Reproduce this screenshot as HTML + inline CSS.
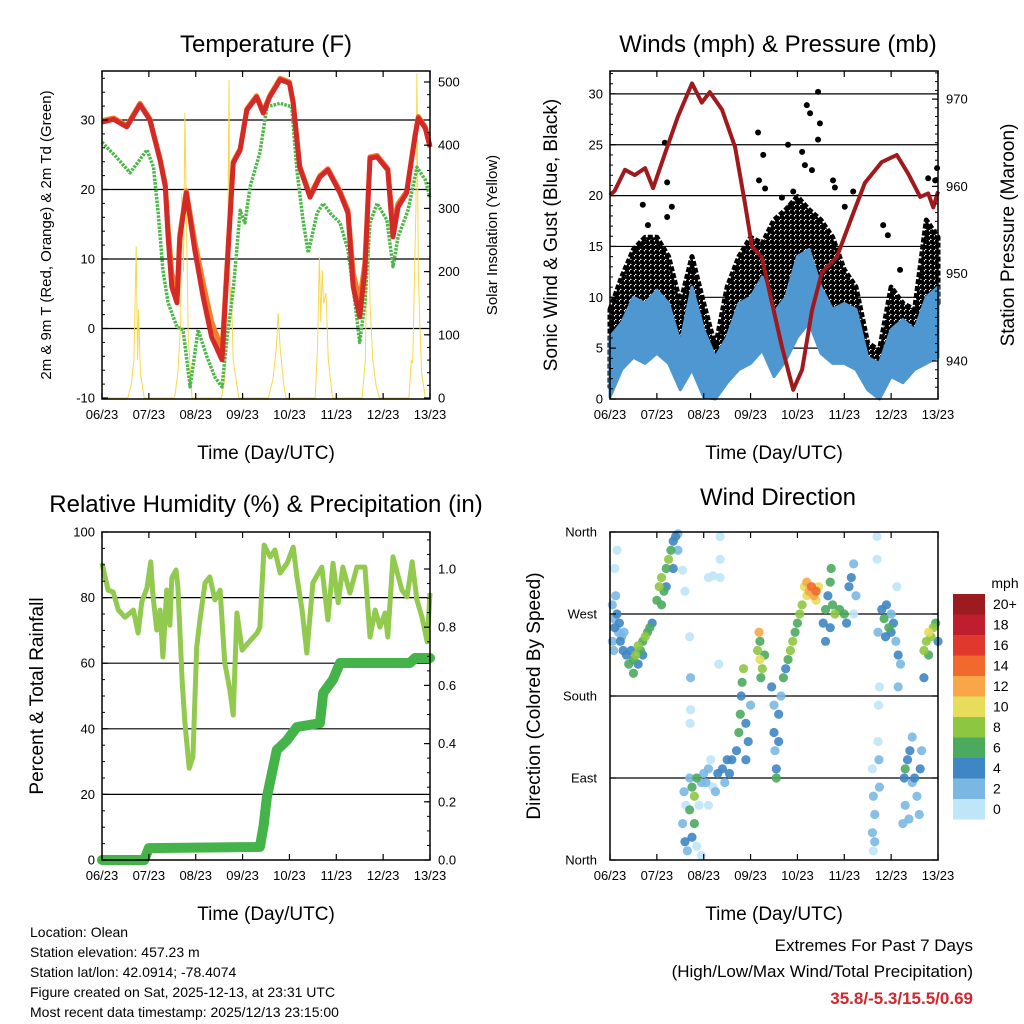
<!DOCTYPE html>
<html><head><meta charset="utf-8"><style>
body{margin:0;background:#fff}
svg{display:block;font-family:"Liberation Sans",Arial,sans-serif}
</style></head><body>
<svg id="c" width="1024" height="1024" viewBox="0 0 1024 1024" xmlns="http://www.w3.org/2000/svg">
<defs>
<pattern id="gustdots" width="5" height="5" patternUnits="userSpaceOnUse">
<circle cx="1.5" cy="1.5" r="2.6" fill="#000"/><circle cx="4" cy="4" r="2.6" fill="#000"/>
</pattern>
</defs>
</svg>
<script>
// ---------- DATA ----------
const dayLabels=["06/23","07/23","08/23","09/23","10/23","11/23","12/23","13/23"];
// Temperature (F)
const tempT=[0,0.25,0.53,0.81,1.02,1.24,1.35,1.41,1.49,1.6,1.66,1.8,1.98,2.16,2.34,2.56,2.69,2.8,2.95,3.09,3.3,3.44,3.58,3.8,4.0,4.08,4.22,4.44,4.65,4.82,5.08,5.25,5.36,5.5,5.61,5.72,5.87,6.1,6.21,6.32,6.5,6.68,6.75,6.9,7];
const temp2m=[29.7,30.1,29,32.2,30,24.2,20.4,13.2,6,3.7,13,19.5,11.3,4.5,-1.2,-4.5,10.9,23.8,25.7,31.4,33.3,31,33.3,35.8,35.3,32.4,23.2,18.9,21.8,22.8,19.5,16.6,6,1.7,8.4,24.5,24.7,22.8,13.2,17.5,19.5,27.6,30.3,28.8,26.1];
const temp9m=[29.9,30.3,29.2,32.4,30.2,24.4,20.8,14.5,8,5,13.5,19.8,12.5,6.5,1,-3,11.5,24,25.9,31.6,33.5,31.2,33.5,36,35.5,32.6,23.4,19.2,22,23,19.8,17,8,4,9.5,24.7,24.9,23,15,18,19.7,27.8,30.5,29,26.3];
const dewT=[0,0.3,0.6,0.96,1.1,1.2,1.3,1.41,1.6,1.73,1.88,2.05,2.24,2.41,2.56,2.67,2.8,2.95,3.05,3.16,3.37,3.52,3.8,4.05,4.16,4.29,4.4,4.59,4.72,4.87,5.08,5.25,5.4,5.5,5.61,5.72,5.87,6.08,6.21,6.32,6.53,6.72,6.9,7];
const dewV=[26.8,24.7,22.4,25.7,23.2,16.6,8.4,3.7,0.2,-0.2,-8.4,-0.2,-4.1,-7,-8.4,-1.2,5.5,17,15.2,20.4,25.3,31.9,32.4,31.9,22.8,15.6,10.9,16.6,18,16.6,15.2,11.3,3.7,-2,3.7,15.2,18,15.6,8.9,13.2,17,23.2,21.4,18.9];
const solarT=[0,0.55,0.62,0.68,0.73,0.76,0.78,0.82,0.9,1.55,1.62,1.68,1.7,1.74,1.77,1.8,1.84,1.92,2.55,2.62,2.68,2.71,2.73,2.76,2.8,2.92,3.55,3.65,3.72,3.76,3.8,3.88,3.93,4.55,4.6,4.64,4.67,4.7,4.73,4.78,4.83,4.92,5.55,5.62,5.68,5.72,5.78,5.85,5.92,6.55,6.6,6.63,6.7,6.72,6.75,6.78,6.82,6.9,7];
const solarV=[0,0,20,60,240,60,140,40,0,0,40,120,324,200,451,300,100,0,0,30,200,503,150,176,60,0,0,30,80,134,80,20,0,0,80,223,120,202,150,166,60,0,0,60,345,150,60,20,0,0,60,55,300,514,200,123,40,0,0];
// Winds
const pressT=[0,0.1,0.32,0.53,0.75,0.92,1.22,1.45,1.75,1.96,2.13,2.39,2.67,2.88,3.03,3.24,3.46,3.67,3.91,4.1,4.31,4.52,4.84,5.16,5.44,5.8,6.12,6.36,6.62,6.79,6.9,7];
const pressV=[959,959.5,961.9,961.3,962.1,959.8,964.5,968,971.8,969.6,970.8,968.8,964.5,958.1,953.1,951.9,946.6,941.6,936.7,939,945.8,950.1,951.9,956.5,960.4,962.8,963.6,961.5,958.8,959.2,957.6,959.4];
const windT=[0,0.25,0.5,0.75,1,1.25,1.5,1.75,2,2.25,2.5,2.75,3,3.25,3.5,3.75,4,4.25,4.5,4.75,5,5.25,5.5,5.75,6,6.25,6.5,6.75,7];
const windHi=[6.1,7.5,10,9.4,10.7,9.4,5.5,11,6.8,4.1,6.1,9.4,10,12,8.5,10,14,14.7,11,8.8,9.4,8.8,4.1,3.5,6.8,7.8,6.8,10,11];
const windLo=[0.2,2.9,4.1,3.5,4.5,3.5,0.9,2.9,0.2,0,1.6,2.9,3.5,4.8,2.2,3.8,6.1,7.5,4.5,3.5,3.5,2.9,0.9,0,2.2,1.6,2.9,3.5,4.1];
const gustHi=[8.8,12,14.7,15.9,15.9,14,9.4,14,9.4,5.1,11,14,15.9,15.3,17.6,18.6,19.9,18.6,17.6,15.9,12.7,11,5.5,4.8,11,9.4,8.8,17.6,15.9];
const gustLo=[1.2,4.5,6.1,6.1,7.8,6.1,2.9,6.8,3.5,1.6,4.5,6.8,7.8,8.8,7.5,9.4,11,10.7,9.4,8.8,6.1,5.5,2.9,1.9,5.5,4.5,4.1,9.4,9.4];
const gustPtT=[0.7,0.81,1.22,1.22,1.32,1.17,3.16,3.27,3.18,3.31,3.8,3.91,4.1,4.2,4.27,4.44,4.48,4.44,4.16,4.31,4.76,4.8,5.19,5.01,5.83,5.93,6.19,6.79,6.98,6.94,6.55,3.67,3.84];
const gustPtV=[19.1,17.1,17.9,21.3,18.9,25.2,26.2,24,21.5,20.7,25,20.4,24.3,28.9,28.1,30.2,27.1,25.5,23,22.5,21.5,20.8,20.4,18.9,17.1,16.1,12.7,21.7,22.7,21.5,8.9,19.8,18.9];
// RH & precip
const rhT=[0,0.13,0.24,0.35,0.49,0.67,0.77,0.85,0.96,1.04,1.09,1.17,1.24,1.3,1.38,1.45,1.49,1.58,1.62,1.71,1.77,1.86,1.94,2.02,2.09,2.2,2.3,2.41,2.52,2.62,2.73,2.8,2.88,2.99,3.12,3.31,3.37,3.46,3.59,3.69,3.8,3.95,4.08,4.16,4.27,4.37,4.5,4.69,4.82,4.93,5.04,5.14,5.29,5.44,5.61,5.72,5.83,5.93,6.04,6.1,6.21,6.4,6.51,6.62,6.72,6.83,6.94,7];
const rhV=[90.5,82.3,81.7,76.2,74,76.2,69.2,78.7,83,90.9,80.2,70.1,76.2,61.9,82.3,71.6,86,88.4,83.2,54.9,41.8,28,31.4,64.9,73.2,84.5,86.3,79.3,82.3,60,51.8,44.2,75.3,64,66.2,69.2,71,96,92.4,94.5,87.5,90.5,95.4,86.3,76.2,63.1,84.5,89.3,73.2,90.5,78.4,89.3,81.4,89.3,89.3,68,76.2,71,75.3,68,92.4,82.3,80.2,90.9,79.3,74,66.5,81.4];
const rainT=[0,0.9,1.0,3.37,3.45,3.52,3.73,3.94,4.16,4.65,4.72,4.93,5.08,6.57,6.68,7];
const rainV=[0,0,0.041,0.045,0.12,0.217,0.378,0.41,0.457,0.47,0.574,0.62,0.677,0.677,0.694,0.694];
// Wind direction points: time, degrees, speed
const dirT=[0.05,0.08,0.1,0.12,0.15,0.18,0.2,0.22,0.25,0.28,0.3,0.05,0.1,0.15,0.08,0.35,0.4,0.45,0.5,0.55,0.6,0.65,0.7,0.75,0.8,0.85,0.9,0.5,0.6,0.7,1.0,1.05,1.1,1.15,1.2,1.25,1.3,1.35,1.4,1.45,1.1,1.2,1.35,1.45,1.55,1.6,1.7,1.72,1.72,1.71,2.1,2.2,2.35,2.35,2.32,2.35,1.55,1.6,1.58,1.62,1.7,1.75,1.8,1.85,1.8,1.75,1.65,1.9,1.95,1.7,1.85,1.95,2.0,2.05,2.1,2.2,2.25,2.3,2.4,2.45,2.5,2.55,2.6,2.15,2.1,2.7,2.75,2.78,2.8,2.82,2.85,2.9,2.95,2.9,3.0,3.15,3.2,3.25,3.2,3.3,3.22,3.18,3.45,3.5,3.5,3.52,3.55,3.6,3.65,3.6,3.55,3.7,3.75,3.8,3.85,3.9,3.95,4.0,4.05,4.1,4.15,4.2,4.25,4.3,4.35,4.4,4.45,4.2,4.4,4.55,4.6,4.65,4.7,4.72,4.75,4.8,4.9,5.0,5.05,5.1,5.15,5.2,5.25,5.2,4.6,4.7,5.6,5.62,5.65,5.6,5.62,5.7,5.7,5.72,5.75,5.73,5.72,5.74,5.75,5.65,5.8,5.85,5.9,5.95,6.0,6.05,6.1,6.15,6.2,5.88,6.0,6.12,6.15,6.25,6.3,6.28,6.3,6.35,6.4,6.45,6.5,6.55,6.6,6.62,6.45,6.38,6.65,6.7,6.75,6.8,6.85,6.9,6.95,7.0,6.8,6.7];
const dirDeg=[280,265,255,290,270,250,260,240,245,230,250,240,320,340,230,225,215,230,220,225,235,230,240,245,250,255,260,205,215,225,285,300,310,295,320,330,340,350,355,358,280,300,320,340,318,295,245,200,165,150,310,312,355,330,215,310,40,20,75,60,55,80,70,90,40,25,10,60,85,90,15,5,95,85,100,80,75,95,100,85,110,95,110,110,60,120,140,160,180,195,210,150,130,110,170,230,220,210,240,225,200,250,190,170,140,120,100,160,180,130,90,200,210,220,230,240,250,260,270,280,300,305,295,300,290,295,300,290,285,260,275,290,305,320,280,270,275,270,260,300,310,325,290,270,240,255,100,70,50,30,10,355,330,250,190,170,130,110,80,20,275,265,280,255,250,260,240,225,215,245,270,300,190,40,60,90,100,110,120,135,90,70,50,100,85,45,120,230,240,250,245,255,260,240,225,200];
const dirSpd=[3,2,4,2,4,3,5,4,3,4,2,2,1,1,3,5,6,5,7,8,9,6,7,8,6,7,5,6,4,5,7,8,9,7,6,8,7,5,4,3,6,5,4,2,1,1,1,2,1,1,1,1,1,1,1,1,3,4,2,1,6,7,8,6,6,5,3,1,2,2,1,1,2,3,2,1,3,4,4,3,5,4,4,1,1,5,6,6,5,7,8,5,4,4,3,9,10,8,7,6,6,13,4,3,4,3,4,4,3,4,6,6,5,7,8,9,7,6,8,9,11,13,12,15,12,14,11,10,10,4,6,5,7,6,7,8,6,7,5,5,4,3,2,1,4,5,1,2,2,3,1,1,1,2,1,1,1,2,2,2,4,6,5,7,4,5,3,4,3,5,3,1,3,2,3,5,7,4,4,3,4,2,2,4,3,2,3,8,9,10,8,9,7,5,7,4];
const cbLabels=["20+","18","16","14","12","10","8","6","4","2","0"];
const cbColors=["#9b1b1e","#be1e2d","#e0382c","#f1692d","#f8a648","#e6dd5a","#8dc641","#4caa5f","#3e86c4","#7ab8e3","#bfe5f8"];

// ---------- DRAW ----------
const svg=document.getElementById('c');
const NS="http://www.w3.org/2000/svg";
function mk(tag,attrs,parent){const e=document.createElementNS(NS,tag);for(const k in attrs)e.setAttribute(k,attrs[k]);(parent||svg).appendChild(e);return e;}
function txt(s,x,y,size,anchor,parent,extra){const e=mk('text',Object.assign({x:x,y:y,'font-size':size,'text-anchor':anchor||'middle',fill:'#000'},extra||{}),parent);e.textContent=s;return e;}
function pathD(xs,ys){return xs.map((x,i)=>(i?'L':'M')+x.toFixed(1)+','+ys[i].toFixed(1)).join('');}

function panel(name,x0,y0,w,h){
  const g=mk('g',{});
  
  
  const sx=t=>x0+t/7*w;
  return {g,sx,x0,y0,w,h};
}
function frame(p,hlines,yl){
  hlines.forEach(v=>{const y=yl(v);const l=mk('line',{x1:p.x0,x2:p.x0+p.w,y1:y,y2:y,stroke:'#000','stroke-width':1.2},p.g);});
}
function border(p){
  const r=mk('rect',{x:p.x0,y:p.y0,width:p.w,height:p.h,fill:'none',stroke:'#000','stroke-width':1.5},p.g);
  
  dayLabels.forEach((d,i)=>{const x=p.sx(i);
    mk('line',{x1:x,x2:x,y1:p.y0+p.h,y2:p.y0+p.h-6,stroke:'#000','stroke-width':1.2},p.g);
    mk('line',{x1:x,x2:x,y1:p.y0,y2:p.y0+6,stroke:'#000','stroke-width':1.2},p.g);
    const t=txt(d,x,p.y0+p.h+20,13,'middle',p.g);
  });
  const xt=txt('Time (Day/UTC)',p.x0+p.w/2,p.y0+p.h+60,19,'middle',p.g);
  
}
function yTicks(p,vals,yf,side,fmt,minor){
  const x=side==='l'?p.x0:p.x0+p.w;
  vals.forEach(v=>{const y=yf(v);
    mk('line',{x1:x,x2:x+(side==='l'?6:-6),y1:y,y2:y,stroke:'#000','stroke-width':1.2},p.g);
    const t=txt(fmt(v),side==='l'?x-7:x+8,y+4.5,13,side==='l'?'end':'start',p.g);
    
  });
  (minor||[]).forEach(v=>{const y=yf(v);mk('line',{x1:x,x2:x+(side==='l'?3:-3),y1:y,y2:y,stroke:'#000','stroke-width':1},p.g);});
}
function title(s,x,y){const t=txt(s,x,y,24,'middle');}
function vlabel(s,x,y,size,name){const t=txt(s,x,y,size,'middle',svg,{transform:`rotate(-90 ${x} ${y})`});}
function range(a,b,s){const r=[];for(let v=a;v<=b+1e-9;v+=s)r.push(+v.toFixed(4));return r;}

// ---- Panel 1: Temperature ----
{
  const p=panel('temperature-panel',102,71,328,328);
  const yl=v=>398-(v+10)*6.95;
  const yr=v=>398-v*0.632;
  frame(p,[0,10,20,30],yl);
  const sol=mk('path',{d:pathD(solarT.map(p.sx),solarV.map(yr)),fill:'none',stroke:'#f7d84a','stroke-width':1},p.g);
  
  const dw=mk('path',{d:pathD(dewT.map(p.sx),dewV.map(yl)),fill:'none',stroke:'#4db848','stroke-width':3.5,'stroke-dasharray':'2.5,1.2','stroke-linejoin':'round'},p.g);
  
  const o=mk('path',{d:pathD(tempT.map(p.sx),temp9m.map(yl)),fill:'none',stroke:'#f47d2a','stroke-width':5,'stroke-linejoin':'round'},p.g);
  
  const r=mk('path',{d:pathD(tempT.map(p.sx),temp2m.map(yl)),fill:'none',stroke:'#d42a27','stroke-width':5,'stroke-linejoin':'round'},p.g);
  
  border(p);
  yTicks(p,[-10,0,10,20,30],yl,'l',v=>v,range(-8,36,2));
  yTicks(p,[0,100,200,300,400,500],yr,'r',v=>v,range(20,510,20));
  title('Temperature (F)',266,52);
  vlabel('2m & 9m T (Red, Orange) & 2m Td (Green)',51,235,15,'y-axis-title');
  vlabel('Solar Insolation (Yellow)',497,235,15,'y2-axis-title');
}
// ---- Panel 2: Winds ----
{
  const p=panel('winds-panel',610,71,328,328);
  const yl=v=>399-v*10.17;
  const yr=v=>361-(v-940)*8.73;
  frame(p,[5,10,15,20,25,30],yl);
  const gb=mk('path',{d:pathD(windT.map(p.sx),gustHi.map(yl))+pathD(windT.slice().reverse().map(p.sx),gustLo.slice().reverse().map(yl)).replace('M','L')+'Z',fill:'url(#gustdots)',stroke:'#000','stroke-width':5,'stroke-dasharray':'5,2','stroke-linejoin':'round'},p.g);
  
  gustPtT.forEach((t,i)=>{const c=mk('circle',{cx:p.sx(t),cy:yl(gustPtV[i]),r:3,fill:'#000'},p.g);
    });
  const wb=mk('path',{d:pathD(windT.map(p.sx),windHi.map(yl))+pathD(windT.slice().reverse().map(p.sx),windLo.slice().reverse().map(yl)).replace('M','L')+'Z',fill:'#4f97d1',stroke:'#4f97d1','stroke-width':3,'stroke-linejoin':'round'},p.g);
  
  const pr=mk('path',{d:pathD(pressT.map(p.sx),pressV.map(yr)),fill:'none',stroke:'#a0191c','stroke-width':4,'stroke-linejoin':'round'},p.g);
  
  border(p);
  yTicks(p,[0,5,10,15,20,25,30],yl,'l',v=>v,range(1,32,1));
  yTicks(p,[940,950,960,970],yr,'r',v=>v,range(937,973,1));
  title('Winds (mph) & Pressure (mb)',778,52);
  vlabel('Sonic Wind & Gust (Blue, Black)',557,235,19,'y-axis-title');
  vlabel('Station Pressure (Maroon)',1014,235,19,'y2-axis-title');
}
// ---- Panel 3: RH & Precip ----
{
  const p=panel('humidity-precip-panel',102,532,328,328);
  const yl=v=>860-v*3.28;
  const yr=v=>860-v*291;
  frame(p,[20,40,60,80],yl);
  const rh=mk('path',{d:pathD(rhT.map(p.sx),rhV.map(yl)),fill:'none',stroke:'#92c94f','stroke-width':5,'stroke-linejoin':'round'},p.g);
  
  const rn=mk('path',{d:pathD(rainT.map(p.sx),rainV.map(yr)),fill:'none',stroke:'#44b34a','stroke-width':10,'stroke-linejoin':'round','stroke-linecap':'round'},p.g);
  
  border(p);
  yTicks(p,[0,20,40,60,80,100],yl,'l',v=>v,range(5,95,5));
  yTicks(p,[0,0.2,0.4,0.6,0.8,1.0],yr,'r',v=>v.toFixed(1),range(0.05,1.1,0.05));
  title('Relative Humidity (%) & Precipitation (in)',266,512);
  vlabel('Percent & Total Rainfall',43,696,19,'y-axis-title');
}
// ---- Panel 4: Wind Direction ----
{
  const p=panel('wind-direction-panel',610,532,328,328);
  const yl=v=>860-v/360*328;
  frame(p,[90,180,270],yl);
  const order=dirSpd.map((s,i)=>i).sort((a,b)=>dirSpd[a]-dirSpd[b]);
  order.forEach(i=>{
    const idx=Math.max(0,10-Math.min(10,Math.floor(dirSpd[i]/2)));
    const c=mk('circle',{cx:p.sx(dirT[i]),cy:yl(dirDeg[i]),r:4.6,fill:cbColors[idx],'fill-opacity':0.9},p.g);
    
  });
  border(p);
  const names=['North','East','South','West','North'];
  [0,90,180,270,360].forEach((v,i)=>{const y=yl(v);
    mk('line',{x1:p.x0,x2:p.x0+6,y1:y,y2:y,stroke:'#000','stroke-width':1.2},p.g);
    mk('line',{x1:p.x0+p.w,x2:p.x0+p.w-6,y1:y,y2:y,stroke:'#000','stroke-width':1.2},p.g);
    const t=txt(names[i],p.x0-13,y+4.5,13,'end',p.g);});
  title('Wind Direction',778,505);
  vlabel('Direction (Colored By Speed)',540,696,19,'y-axis-title');
  const cb=mk('g',{});
  txt('mph',1005,588,14,'middle',cb);
  cbLabels.forEach((l,i)=>{const y=594+i*20.5;
    const r=mk('rect',{x:953,y:y,width:32,height:20.5,fill:cbColors[i]},cb);
    
    const t=txt(l,993,y+15,14,'start',cb);});
}
// ---- footer text ----
{
  const g=mk('g',{});
  ["Location: Olean","Station elevation: 457.23 m","Station lat/lon: 42.0914; -78.4074","Figure created on Sat, 2025-12-13, at 23:31 UTC","Most recent data timestamp: 2025/12/13 23:15:00"].forEach((s,i)=>txt(s,30,937+i*20,14,'start',g));
  const e=mk('g',{});
  txt('Extremes For Past 7 Days',973,951,17,'end',e);
  txt('(High/Low/Max Wind/Total Precipitation)',973,977,17,'end',e);
  txt('35.8/-5.3/15.5/0.69',973,1004,17,'end',e,{fill:'#d0262d','font-weight':'bold'});
}
</script>
</body></html>
